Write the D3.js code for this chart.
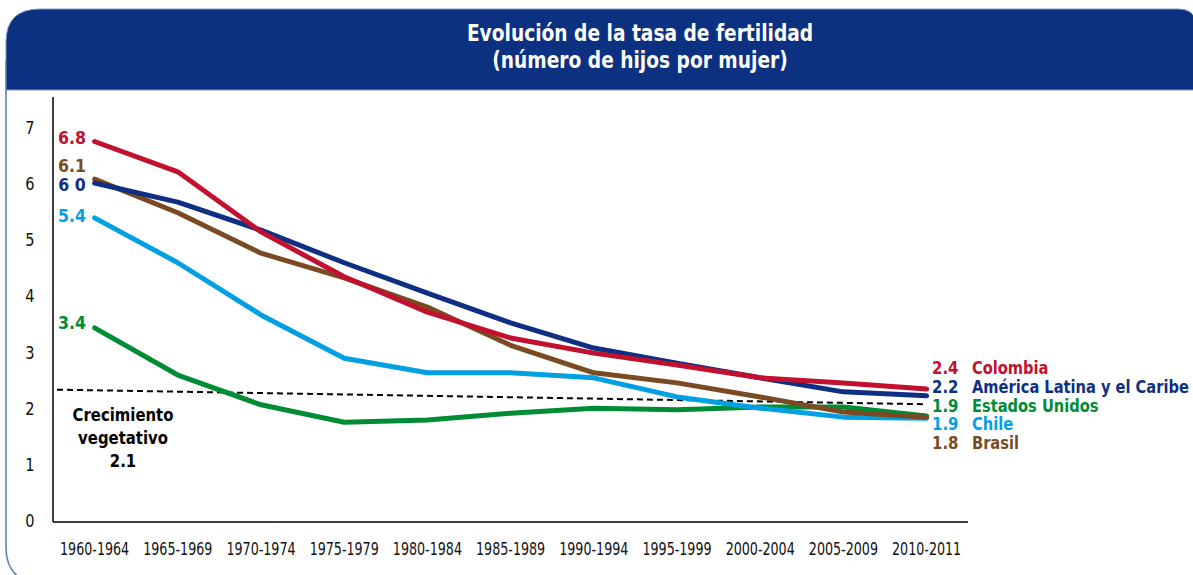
<!DOCTYPE html>
<html><head><meta charset="utf-8">
<script src="https://cdn.jsdelivr.net/npm/d3@7"></script>
<style>html,body{margin:0;padding:0;background:#fff;overflow:hidden}</style>
</head><body>
<svg id="chart" width="1193" height="575"></svg>
<script>
const periods = ["1960-1964","1965-1969","1970-1974","1975-1979","1980-1984","1985-1989","1990-1994","1995-1999","2000-2004","2005-2009","2010-2011"];
const colombia = [6.76,6.22,5.15,4.35,3.72,3.26,2.99,2.78,2.55,2.46,2.35];
const latam    = [6.02,5.68,5.18,4.60,4.06,3.53,3.08,2.81,2.55,2.30,2.23];
const brasil   = [6.09,5.49,4.77,4.33,3.81,3.13,2.64,2.46,2.21,1.94,1.85];
const chile    = [5.40,4.60,3.67,2.90,2.64,2.64,2.55,2.21,2.01,1.85,1.83];
const eeuu     = [3.44,2.60,2.07,1.76,1.80,1.92,2.01,1.98,2.03,2.03,1.87];
const replacement = [2.34, 2.08]; // dashed reference line start / end
const yTicks = [0,1,2,3,4,5,6,7];
const startLabels = ["6.8","6.1","6 0","5.4","3.4"];
const endValues = ["2.4","2.2","1.9","1.9","1.8"];
const endNames = ["Colombia","América Latina y el Caribe","Estados Unidos","Chile","Brasil"];
const titleLines = ["Evolución de la tasa de fertilidad","(número de hijos por mujer)"];
const noteLines = ["Crecimiento","vegetativo","2.1"];

const C = {red:"#c2102f", blue:"#0e2f82", brown:"#7a4a22", cyan:"#00a0e2", green:"#008c35"};
const series = [
  {vals:colombia, color:C.red},
  {vals:latam, color:C.blue},
  {vals:brasil, color:C.brown},
  {vals:chile, color:C.cyan},
  {vals:eeuu, color:C.green}
];
const svg = d3.select("#chart");
const font = "'DejaVu Sans Condensed','DejaVu Sans',sans-serif";

// frame
svg.append("path")
  .attr("d","M6,60 L6,548 Q6,580 40,585")
  .attr("fill","none").attr("stroke","#5a78b8").attr("stroke-width",1.5);
svg.append("path")
  .attr("d","M6,90 L6,42 Q6,9 40,9 L1178,9 Q1193,9 1195,20 L1195,90 Z")
  .attr("fill","#0d3181").attr("stroke","#7f96c9").attr("stroke-width",1);
svg.append("g").selectAll("text").data(titleLines).join("text")
  .attr("transform",(d,i)=>`translate(640,${41+i*27}) scale(0.92,1)`)
  .attr("text-anchor","middle").attr("fill","#fff")
  .attr("font-family",font).attr("font-weight","bold").attr("font-size",22.5)
  .text(d=>d);

const x = d3.scalePoint().domain(periods).range([94.6,926.6]);
const y = d3.scaleLinear().domain([0,7]).range([521,128]);

// axes
svg.append("line").attr("x1",53).attr("x2",53).attr("y1",97).attr("y2",522)
  .attr("stroke","#000").attr("stroke-width",1.5);
svg.append("line").attr("x1",53).attr("x2",968).attr("y1",522).attr("y2",522)
  .attr("stroke","#000").attr("stroke-width",1.5);

svg.append("g").selectAll("text").data(yTicks).join("text")
  .attr("transform",d=>`translate(30,${y(d)+6}) scale(0.9,1)`).attr("text-anchor","middle")
  .attr("font-family",font).attr("font-size",18).attr("fill","#111").text(d=>d);
svg.append("g").selectAll("text").data(periods).join("text")
  .attr("transform",d=>`translate(${x(d)},555) scale(0.83,1)`).attr("text-anchor","middle")
  .attr("font-family",font).attr("font-size",17).attr("fill","#111").text(d=>d);

// dashed reference
svg.append("line")
  .attr("x1",57).attr("x2",x(periods[periods.length-1]))
  .attr("y1",y(replacement[0])).attr("y2",y(replacement[1]))
  .attr("stroke","#000").attr("stroke-width",2).attr("stroke-dasharray","6,4");

// lines
const line = d3.line().x((d,i)=>x(periods[i])).y(d=>y(d));
const order = [4,3,2,1,0];
svg.append("g").selectAll("path").data(order.map(i=>series[i])).join("path")
  .attr("d",d=>line(d.vals)).attr("fill","none").attr("stroke",d=>d.color)
  .attr("stroke-width",5).attr("stroke-linecap","round").attr("stroke-linejoin","round");

// start labels
const startCols = [C.red,C.brown,C.blue,C.cyan,C.green];
const startY = [138,166,185,216,323];
svg.append("g").selectAll("text").data(startLabels).join("text")
  .attr("transform",(d,i)=>`translate(72,${startY[i]+6}) scale(0.95,1)`).attr("text-anchor","middle")
  .attr("font-family",font).attr("font-weight","bold").attr("font-size",18.5)
  .attr("fill",(d,i)=>startCols[i]).text(d=>d);

// end labels
const endCols = [C.red,C.blue,C.green,C.cyan,C.brown];
const endY = [367,386,405,423,442];
const eg = svg.append("g");
eg.selectAll("text.v").data(endValues).join("text").attr("class","v")
  .attr("transform",(d,i)=>`translate(932,${endY[i]+6.5}) scale(0.9,1)`)
  .attr("font-family",font).attr("font-weight","bold").attr("font-size",18.5)
  .attr("fill",(d,i)=>endCols[i]).text(d=>d);
eg.selectAll("text.n").data(endNames).join("text").attr("class","n")
  .attr("transform",(d,i)=>`translate(972,${endY[i]+6.5}) scale(0.88,1)`)
  .attr("font-family",font).attr("font-weight","bold").attr("font-size",18.5)
  .attr("fill",(d,i)=>endCols[i]).text(d=>d);

// note
svg.append("g").selectAll("text").data(noteLines).join("text")
  .attr("transform",(d,i)=>`translate(123,${421+i*23}) scale(0.92,1)`).attr("text-anchor","middle")
  .attr("font-family",font).attr("font-weight","bold").attr("font-size",18)
  .attr("fill","#000").text(d=>d);
</script>
</body></html>
